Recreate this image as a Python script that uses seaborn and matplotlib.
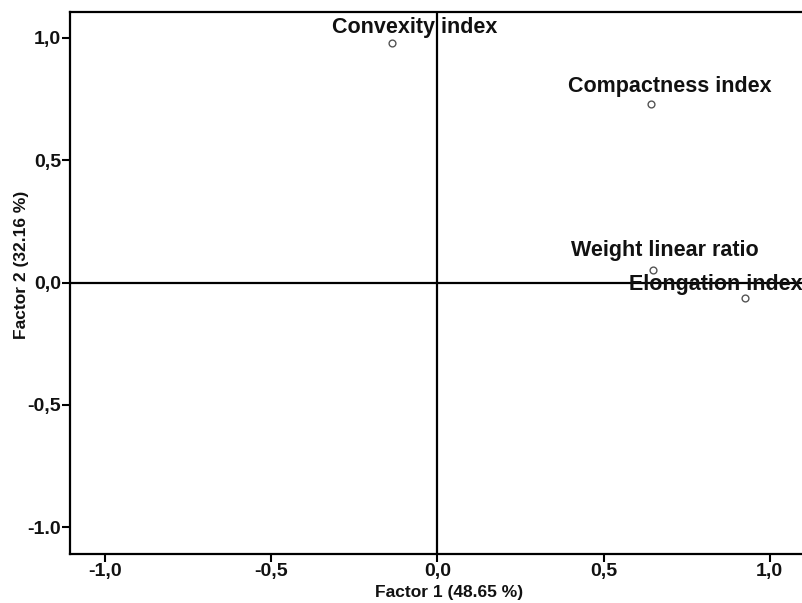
import pandas as pd
import seaborn as sns
import matplotlib.pyplot as plt

# factor loadings
variables = ["Convexity index", "Compactness index", "Weight linear ratio", "Elongation index"]
factor1 = [-0.136, 0.644, 0.648, 0.927]
factor2 = [0.981, 0.729, 0.052, -0.061]

# label offsets (pixels) relative to each point
label_dx = [23, 18, 12, -30]
label_dy = [15, 18, 19, 13]

xticks = [-1.0, -0.5, 0.0, 0.5, 1.0]
xticklabels = ["-1,0", "-0,5", "0,0", "0,5", "1,0"]
yticks = [-1.0, -0.5, 0.0, 0.5, 1.0]
yticklabels = ["-1.0", "-0,5", "0,0", "0,5", "1,0"]

df = pd.DataFrame({"var": variables, "f1": factor1, "f2": factor2})

sns.set_style("white")
plt.rcParams["font.family"] = ["Liberation Sans", "DejaVu Sans"]

fig = plt.figure(figsize=(8.03, 6.03), dpi=100)
ax = fig.add_axes([0.0872, 0.0808, 0.9128, 0.8998])

ax.axhline(0, color="black", lw=1.6, zorder=1)
ax.axvline(0, color="black", lw=1.6, zorder=1)

sns.scatterplot(data=df, x="f1", y="f2", ax=ax, marker="o", s=24,
                facecolor="white", edgecolor="#555555", linewidth=1.0, zorder=3)

for name, x, y, dx, dy in zip(variables, factor1, factor2, label_dx, label_dy):
    ax.annotate(name, (x, y), xytext=(dx, dy), textcoords="offset pixels",
                ha="center", va="center", fontsize=15.5, fontweight="bold",
                color="#111111", zorder=4)

ax.set_xlim(-1.105, 1.1)
ax.set_ylim(-1.11, 1.107)
ax.set_xticks(xticks)
ax.set_xticklabels(xticklabels)
ax.set_yticks(yticks)
ax.set_yticklabels(yticklabels)
ax.tick_params(bottom=True, left=True, direction="out", length=6, width=1.5,
               color="black", labelsize=14, pad=0.5, labelcolor="#111111")
for lbl in ax.get_xticklabels() + ax.get_yticklabels():
    lbl.set_fontweight("bold")

for side in ["left", "bottom", "top"]:
    ax.spines[side].set_color("black")
    ax.spines[side].set_linewidth(1.6)
ax.spines["right"].set_visible(False)

ax.set_xlabel("Factor 1 (48.65 %)", fontsize=12.5, fontweight="bold", color="#111111")
ax.set_ylabel("Factor 2 (32.16 %)", fontsize=12.5, fontweight="bold", color="#111111")
ax.xaxis.set_label_coords(0.517, -0.057)
ax.yaxis.set_label_coords(-0.056, 0.533)

fig.savefig("out.png", dpi=100)
